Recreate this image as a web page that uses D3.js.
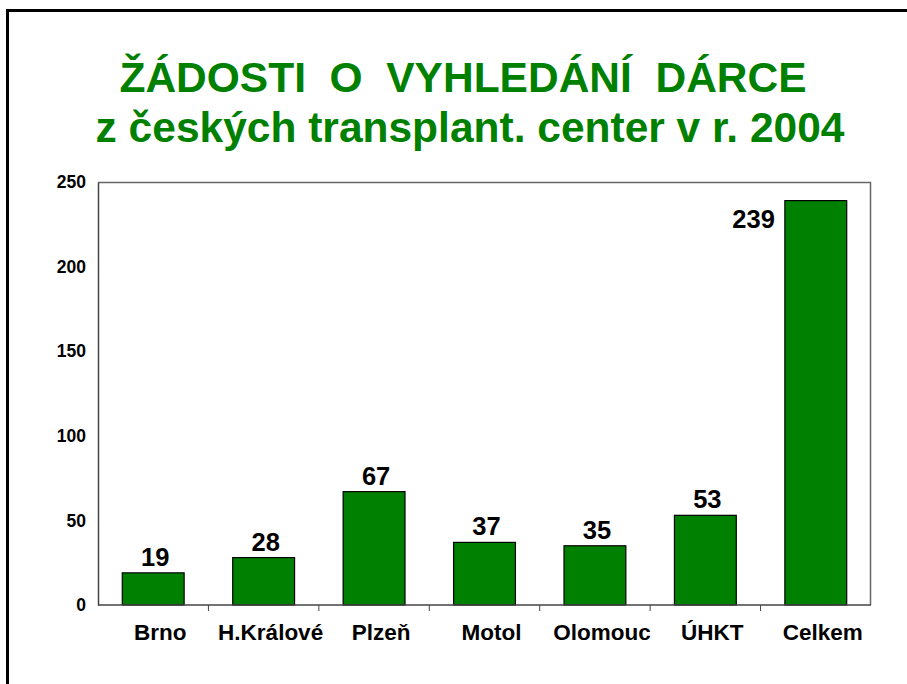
<!DOCTYPE html>
<html>
<head>
<meta charset="utf-8">
<script src="https://cdn.jsdelivr.net/npm/d3@7"></script>
<style>
  html, body { margin: 0; padding: 0; background: #fff; }
  svg { display: block; }
</style>
</head>
<body>
<div id="chart"></div>
<script>
// data
const categories = ["Brno", "H.Králové", "Plzeň", "Motol", "Olomouc", "ÚHKT", "Celkem"];
const values = [19, 28, 67, 37, 35, 53, 239];
const yTicks = [0, 50, 100, 150, 200, 250];
const titleLines = ["ŽÁDOSTI\u00a0 O\u00a0 VYHLEDÁNÍ\u00a0 DÁRCE", "z českých transplant. center v r. 2004"];

const width = 907, height = 684;
const green = "#008000";
const font = "Arial, 'Liberation Sans', sans-serif";

const svg = d3.select("#chart").append("svg")
    .attr("width", width)
    .attr("height", height);

// slide frame
svg.append("path")
    .attr("d", `M7.5,${height} V10.5 H${width}`)
    .attr("fill", "none")
    .attr("stroke", "#000")
    .attr("stroke-width", 3);

// title
svg.append("g").selectAll("text")
  .data(titleLines)
  .join("text")
    .attr("x", (d, i) => i === 0 ? 463 : 470)
    .attr("y", (d, i) => 92 + i * 50)
    .attr("text-anchor", "middle")
    .attr("font-family", font)
    .attr("font-weight", "bold")
    .attr("font-size", 42.5)
    .attr("fill", green)
    .text(d => d);

const margin = { left: 98, right: 871, top: 182, bottom: 605 };

const x = d3.scaleBand()
    .domain(categories)
    .range([margin.left, margin.right])
    .paddingInner(0.44)
    .paddingOuter(0.22);

const y = d3.scaleLinear()
    .domain([0, 250])
    .range([margin.bottom, margin.top]);

const step = x.step();

// plot frame (top and right)
svg.append("path")
    .attr("d", `M${margin.left},${margin.top + 0.5} H${margin.right - 0.5} V${margin.bottom}`)
    .attr("fill", "none")
    .attr("stroke", "#666")
    .attr("stroke-width", 1.5);

// y axis
const yAxis = svg.append("g")
    .attr("transform", `translate(${margin.left},0)`)
    .call(d3.axisLeft(y).tickValues(yTicks).tickSize(0).tickPadding(12));
yAxis.select(".domain").attr("stroke", "#444").attr("stroke-width", 1.5);
yAxis.selectAll("text")
    .attr("font-family", font)
    .attr("font-weight", "bold")
    .attr("font-size", 17.5)
    .attr("fill", "#000");

// bars
svg.append("g").selectAll("rect")
  .data(values)
  .join("rect")
    .attr("x", (d, i) => x(categories[i]))
    .attr("y", d => y(d))
    .attr("width", x.bandwidth())
    .attr("height", d => y(0) - y(d))
    .attr("fill", green)
    .attr("stroke", "#000")
    .attr("stroke-width", 1.2);

// x axis with ticks between categories
const xg = svg.append("g");
xg.append("line")
    .attr("x1", margin.left).attr("x2", margin.right)
    .attr("y1", margin.bottom).attr("y2", margin.bottom)
    .attr("stroke", "#444").attr("stroke-width", 1.5);
xg.selectAll("line.tick")
  .data(categories.slice(1))
  .join("line")
    .attr("class", "tick")
    .attr("x1", d => x(d) - step * x.paddingInner() / 2)
    .attr("x2", d => x(d) - step * x.paddingInner() / 2)
    .attr("y1", margin.bottom)
    .attr("y2", margin.bottom + 6)
    .attr("stroke", "#444");
xg.selectAll("text")
  .data(categories)
  .join("text")
    .attr("x", d => x(d) + x.bandwidth() / 2 + 7)
    .attr("y", 640)
    .attr("text-anchor", "middle")
    .attr("font-family", font)
    .attr("font-weight", "bold")
    .attr("font-size", 22.5)
    .attr("fill", "#000")
    .text(d => d);

// value labels; the tall one sits beside its bar
const last = values.length - 1;
svg.append("g").selectAll("text")
  .data(values)
  .join("text")
    .attr("x", (d, i) => i === last ? x(categories[i]) - 10 : x(categories[i]) + x.bandwidth() / 2 + 2)
    .attr("y", (d, i) => i === last ? y(d) + 27 : y(d) - 7)
    .attr("text-anchor", (d, i) => i === last ? "end" : "middle")
    .attr("font-family", font)
    .attr("font-weight", "bold")
    .attr("font-size", 25.5)
    .attr("fill", "#000")
    .text(d => d);
</script>
</body>
</html>
